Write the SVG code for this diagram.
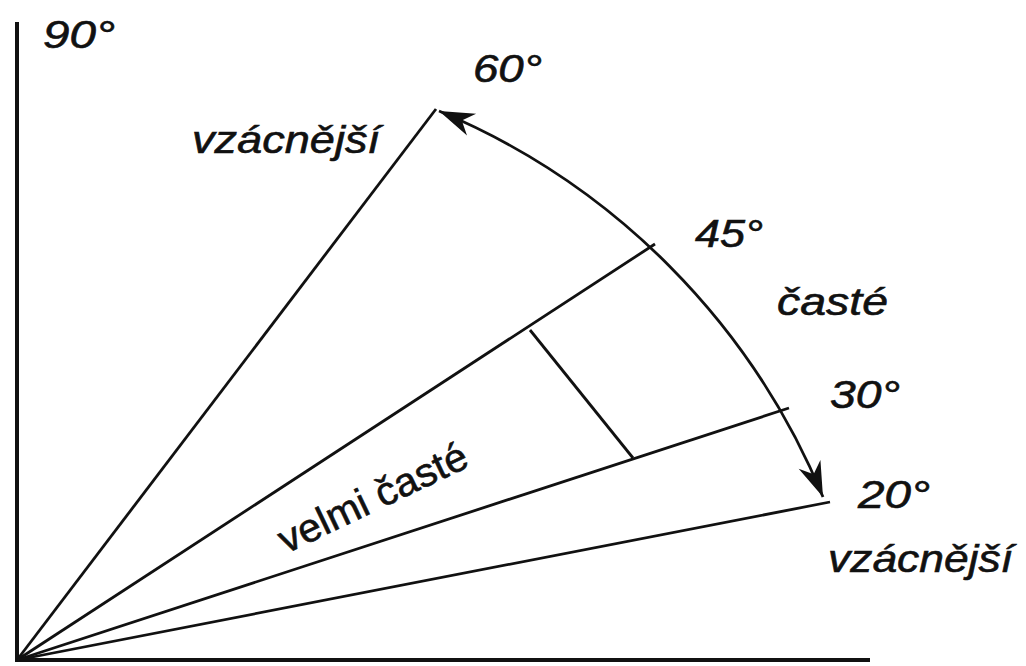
<svg xmlns="http://www.w3.org/2000/svg" width="1026" height="666" viewBox="0 0 1026 666">
<style>
.ax{stroke:#111;stroke-width:4;fill:none;stroke-linecap:square}
.ray{stroke:#111;stroke-width:2.8;fill:none}
.lbl{font-family:"Liberation Sans",Arial,sans-serif;font-style:italic;font-size:38px;fill:#111;stroke:#111;stroke-width:0.6}
.up{font-family:"Liberation Sans",Arial,sans-serif;font-size:40px;fill:#111;stroke:#111;stroke-width:0.6}
</style>
<defs>
<marker id="ah" markerUnits="userSpaceOnUse" markerWidth="40" markerHeight="30" viewBox="-32 -12 34 24" refX="0" refY="0" orient="auto-start-reverse">
<path d="M0,0 L-30,-10 L-21,0 L-30,10 Z" fill="#111"/>
</marker>
</defs>
<rect width="1026" height="666" fill="#fff"/>
<g id="axes">
<line class="ax" x1="17" y1="24" x2="17" y2="660"/>
<line class="ax" x1="17" y1="660" x2="868" y2="660"/>
</g>
<g id="connectors">
<line class="ray" x1="17" y1="660" x2="436" y2="109"/>
<line class="ray" x1="17" y1="660" x2="655" y2="244"/>
<line class="ray" x1="17" y1="660" x2="789" y2="408"/>
<line class="ray" x1="17" y1="660" x2="830" y2="502"/>
<line class="ray" x1="530" y1="330" x2="633" y2="458"/>
<path class="ray" d="M439,111 A713,713 0 0 1 823,497" marker-start="url(#ah)" marker-end="url(#ah)"/>
</g>
<g id="labels">
<text class="lbl" x="43" y="48" textLength="72" lengthAdjust="spacingAndGlyphs">90°</text>
<text class="lbl" x="473" y="82" textLength="69" lengthAdjust="spacingAndGlyphs">60°</text>
<text class="lbl" x="192" y="153" textLength="188" lengthAdjust="spacingAndGlyphs">vzácnější</text>
<text class="lbl" x="695" y="247" textLength="68" lengthAdjust="spacingAndGlyphs">45°</text>
<text class="lbl" x="777" y="315" textLength="111" lengthAdjust="spacingAndGlyphs">časté</text>
<text class="lbl" x="830" y="408" textLength="70" lengthAdjust="spacingAndGlyphs">30°</text>
<text class="lbl" x="858" y="508" textLength="72" lengthAdjust="spacingAndGlyphs">20°</text>
<text class="lbl" x="828" y="572" textLength="185" lengthAdjust="spacingAndGlyphs">vzácnější</text>
<text class="up" transform="translate(286,554) rotate(-25.5)" textLength="205" lengthAdjust="spacingAndGlyphs">velmi časté</text>
</g>
</svg>
